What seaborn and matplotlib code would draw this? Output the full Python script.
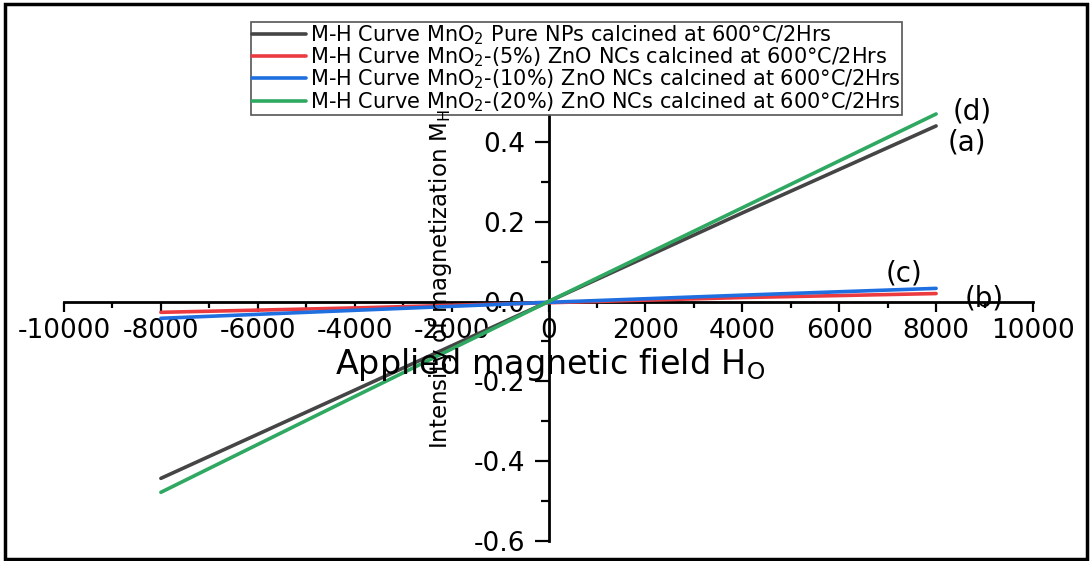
import numpy as np
import pandas as pd
import matplotlib
matplotlib.use("Agg")
import matplotlib.pyplot as plt
import seaborn as sns
from matplotlib.patches import Rectangle
from matplotlib.ticker import MultipleLocator

# applied field (Oe) and magnetization
field = [-8000, -4000, 0, 4000, 8000]
m_pure = [-0.443, -0.222, 0.0, 0.222, 0.44]
m_zno5 = [-0.027, -0.016, -0.003, 0.010, 0.020]
m_zno10 = [-0.042, -0.022, -0.002, 0.016, 0.033]
m_zno20 = [-0.478, -0.238, 0.0, 0.235, 0.47]

labels = [
    "M-H Curve MnO$_2$ Pure NPs calcined at 600°C/2Hrs",
    "M-H Curve MnO$_2$-(5%) ZnO NCs calcined at 600°C/2Hrs",
    "M-H Curve MnO$_2$-(10%) ZnO NCs calcined at 600°C/2Hrs",
    "M-H Curve MnO$_2$-(20%) ZnO NCs calcined at 600°C/2Hrs",
]
colors = ["#454545", "#ec3b40", "#1f6fe0", "#2fa862"]
series = [m_pure, m_zno5, m_zno10, m_zno20]

sns.set_style("white")
plt.rcParams['font.family'] = ['DejaVu Sans']
plt.rcParams['mathtext.default'] = 'regular'
for key in ['text.color', 'axes.labelcolor', 'xtick.color', 'ytick.color']:
    plt.rcParams[key] = 'black'

fig = plt.figure(figsize=(10.9, 5.61), dpi=100)
ax = fig.add_axes([64/1090, 1 - 541/561, (1033 - 64)/1090, (541 - 102)/561])

for m, c, lab in zip(series, colors, labels):
    sns.lineplot(x=field, y=m, color=c, lw=2.6, label=lab, ax=ax, sort=False)

ax.set_xlim(-10000, 10000)
ax.set_ylim(-0.6, 0.5)

# axes crossing at the origin
ax.spines['left'].set_position(('data', 0))
ax.spines['bottom'].set_position(('data', 0))
ax.spines['top'].set_visible(False)
ax.spines['right'].set_visible(False)
for s in ['left', 'bottom']:
    ax.spines[s].set_linewidth(2)
    ax.spines[s].set_color("black")
    ax.spines[s].set_zorder(1)

ax.xaxis.set_minor_locator(MultipleLocator(1000))
ax.yaxis.set_minor_locator(MultipleLocator(0.1))
ax.set_yticks([-0.6, -0.4, -0.2, 0.0, 0.2, 0.4])
ax.set_yticklabels(["-0.6", "-0.4", "-0.2", "0.0", "0.2", "0.4"])
ax.set_xticks(range(-10000, 10001, 2000))
ax.set_xticklabels([str(v) for v in range(-10000, 10001, 2000)])

ax.tick_params(bottom=True, left=True, which='both')
ax.tick_params(axis='x', which='major', direction='out', length=7.5, width=1.6, labelsize=19, pad=4)
ax.tick_params(axis='x', which='minor', direction='out', length=4, width=1.6)
ax.tick_params(axis='y', which='major', direction='out', length=10, width=1.6, labelsize=19, pad=7)
ax.tick_params(axis='y', which='minor', direction='out', length=6, width=1.6)
ax.grid(False)

ax.set_xlabel("")
ax.set_ylabel("")
ax.text(30, -0.158, "Applied magnetic field H$_O$", fontsize=24,
        ha='center', va='center')
ax.text(-2220, 0.056, "Intensity of magnetization M$_H$", fontsize=16.5,
        rotation=90, ha='center', va='center', zorder=6)

# curve tags
ax.text(8750, 0.475, "(d)", fontsize=20, ha='center', va='center')
ax.text(8630, 0.398, "(a)", fontsize=20, ha='center', va='center')
ax.text(7330, 0.07, "(c)", fontsize=20, ha='center', va='center')
ax.text(9000, 0.008, "(b)", fontsize=20, ha='center', va='center')

leg = ax.legend(loc='upper left', bbox_to_anchor=(251/1090, 1 - 22/561),
                bbox_transform=fig.transFigure, borderaxespad=0,
                fontsize=15, handlelength=2.6, handletextpad=0.2,
                labelspacing=-0.06, borderpad=0.05, fancybox=False,
                framealpha=1, edgecolor="#555555")
leg.get_frame().set_linewidth(1.2)
leg.set_zorder(5)

# outer frame around the figure
fig.patches.append(Rectangle((5/1090, 2/561), 1082/1090, 555/561,
                             transform=fig.transFigure, fill=False,
                             edgecolor="black", lw=2.5))

fig.savefig("out.png", dpi=100)
